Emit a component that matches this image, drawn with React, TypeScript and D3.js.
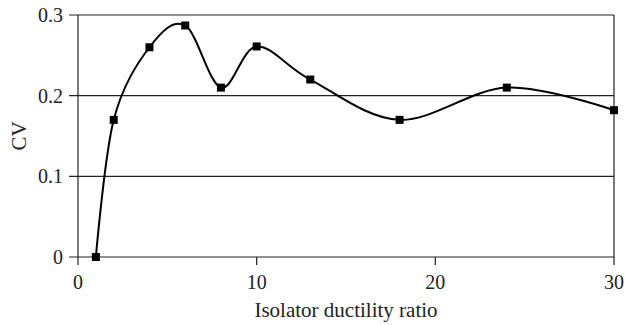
import * as d3 from "d3";

const ductility = [1, 2, 4, 6, 8, 10, 13, 18, 24, 30];
const cv = [0.0, 0.17, 0.26, 0.287, 0.21, 0.261, 0.22, 0.17, 0.21, 0.182];
const xTicks = [0, 10, 20, 30];
const yTicks = [0, 0.1, 0.2, 0.3];

const width = 625;
const height = 325;
const margin = { top: 15, right: 11, bottom: 68, left: 78 };

export default function App() {
  const x = d3
    .scaleLinear()
    .domain([0, 30])
    .range([margin.left, width - margin.right]);
  const y = d3
    .scaleLinear()
    .domain([0, 0.3])
    .range([height - margin.bottom, margin.top]);

  const points = ductility.map((d, i) => [d, cv[i]] as [number, number]);
  const line = d3
    .line<[number, number]>()
    .x((d) => x(d[0]))
    .y((d) => y(d[1]))
    .curve(d3.curveCardinal.tension(0));

  const font = "'Liberation Serif', 'Times New Roman', serif";
  const x0 = x(0);
  const x1 = x(30);

  return (
    <svg
      width={width}
      height={height}
      style={{ position: "absolute", left: 0, top: 0 }}
    >
      <rect width={width} height={height} fill="#fff" />
      {/* horizontal grid + y ticks */}
      {yTicks.map((t) => (
        <g key={t}>
          <line
            x1={x0 - 9}
            x2={x1}
            y1={y(t)}
            y2={y(t)}
            stroke="#222"
            strokeWidth={1.2}
          />
          <text
            x={x0 - 15}
            y={y(t)}
            textAnchor="end"
            dominantBaseline="central"
            fontFamily={font}
            fontSize={20}
            fill="#222"
          >
            {t === 0 ? "0" : t.toFixed(1)}
          </text>
        </g>
      ))}
      {/* x ticks */}
      {xTicks.map((t) => (
        <g key={t}>
          <line
            x1={x(t)}
            x2={x(t)}
            y1={y(0)}
            y2={y(0) + 8}
            stroke="#222"
            strokeWidth={1.2}
          />
          <text
            x={x(t)}
            y={y(0) + 32}
            textAnchor="middle"
            fontFamily={font}
            fontSize={20}
            fill="#222"
          >
            {t}
          </text>
        </g>
      ))}
      {/* frame sides */}
      <line x1={x0} x2={x0} y1={y(0.3)} y2={y(0)} stroke="#222" strokeWidth={1.2} />
      <line x1={x1} x2={x1} y1={y(0.3)} y2={y(0)} stroke="#222" strokeWidth={1.2} />

      <path d={line(points) ?? ""} fill="none" stroke="#000" strokeWidth={2} />
      {points.map((p, i) => (
        <rect
          key={i}
          x={x(p[0]) - 4}
          y={y(p[1]) - 4}
          width={8}
          height={8}
          fill="#000"
        />
      ))}

      <text
        x={(x0 + x1) / 2}
        y={y(0) + 60}
        textAnchor="middle"
        fontFamily={font}
        fontSize={21}
        fill="#222"
      >
        Isolator ductility ratio
      </text>
      <text
        transform={`translate(26, ${(y(0) + y(0.3)) / 2}) rotate(-90)`}
        textAnchor="middle"
        fontFamily={font}
        fontSize={21}
        fill="#222"
      >
        CV
      </text>
    </svg>
  );
}
